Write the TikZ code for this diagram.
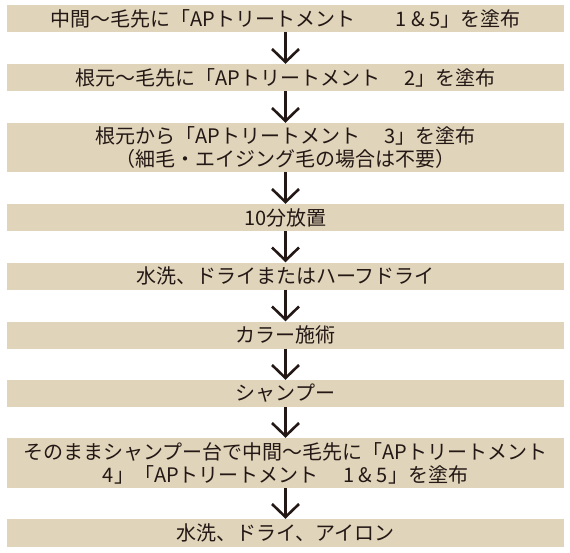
\documentclass[tikz,border=0pt]{standalone}
\usepackage{fontspec}
\usepackage{xcolor}
\usepackage{tikz}
\usetikzlibrary{arrows.meta}
\newfontfamily\jpfont{Noto Sans CJK JP}
\definecolor{stepfill}{RGB}{224,212,186}
\definecolor{inkbrown}{RGB}{35,24,21}

\begin{document}
\begin{tikzpicture}[x=1pt, y=-1pt,
    stepbox/.style={fill=stepfill, inner sep=0pt, minimum width=557pt, minimum height=27pt,
      align=center, text=inkbrown, font=\jpfont\fontsize{20}{23}\selectfont},
    flow/.style={draw=inkbrown, line width=2.6pt, -{Straight Barb[length=13pt, width=27pt, line width=2.6pt]}}]
  \useasboundingbox (0,0) rectangle (570,552);
  \node[stepbox] (s1) at (285.5,18.5) {中間～毛先に「APトリートメント　　1 \& 5」を塗布};
  \node[stepbox] (s2) at (285.5,77.5) {根元～毛先に「APトリートメント　 2」を塗布};
  \node[stepbox, minimum height=49pt] (s3) at (285.5,147.5) {根元から「APトリートメント　 3」を塗布\\（細毛・エイジング毛の場合は不要）};
  \node[stepbox] (s4) at (285.5,217.5) {10分放置};
  \node[stepbox] (s5) at (285.5,276) {水洗、ドライまたはハーフドライ};
  \node[stepbox] (s6) at (285.5,335) {カラー施術};
  \node[stepbox] (s7) at (285.5,393.5) {シャンプー};
  \node[stepbox, minimum height=50pt] (s8) at (285.5,463) {そのままシャンプー台で中間～毛先に「APトリートメント\\4」「APトリートメント　 1 \& 5」を塗布};
  \node[stepbox, minimum height=28pt] (s9) at (285.5,533) {水洗、ドライ、アイロン};
  \draw[flow] (s1) -- (s2);
  \draw[flow] (s2) -- (s3);
  \draw[flow] (s3) -- (s4);
  \draw[flow] (s4) -- (s5);
  \draw[flow] (s5) -- (s6);
  \draw[flow] (s6) -- (s7);
  \draw[flow] (s7) -- (s8);
  \draw[flow] (s8) -- (s9);
\end{tikzpicture}
\end{document}
